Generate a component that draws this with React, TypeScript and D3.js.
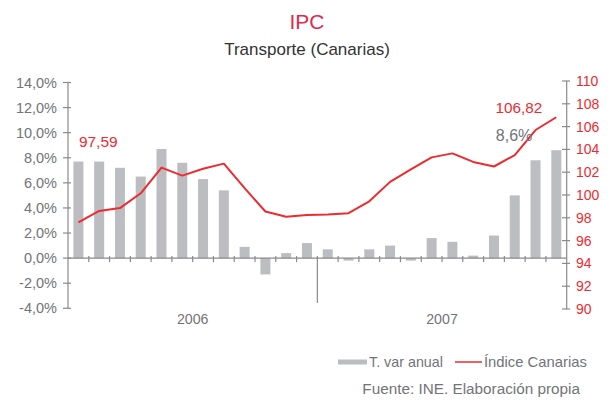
import React from "react";
import * as d3 from "d3";

const months = [
  "ene-06","feb-06","mar-06","abr-06","may-06","jun-06","jul-06","ago-06","sep-06","oct-06","nov-06","dic-06",
  "ene-07","feb-07","mar-07","abr-07","may-07","jun-07","jul-07","ago-07","sep-07","oct-07","nov-07","dic-07",
];
const varAnual = [7.7, 7.7, 7.2, 6.5, 8.7, 7.6, 6.3, 5.4, 0.9, -1.3, 0.4, 1.2, 0.7, -0.2, 0.7, 1.0, -0.2, 1.6, 1.3, 0.2, 1.8, 5.0, 7.8, 8.6];
const indice = [97.59, 98.6, 98.85, 100.15, 102.4, 101.7, 102.3, 102.75, 100.6, 98.55, 98.1, 98.25, 98.3, 98.4, 99.45, 101.15, 102.25, 103.3, 103.65, 102.9, 102.5, 103.5, 105.7, 106.82];
const years = ["2006", "2007"];
const leftTicks = [-4, -2, 0, 2, 4, 6, 8, 10, 12, 14];
const rightTicks = [90, 92, 94, 96, 98, 100, 102, 104, 106, 108, 110];

const W = 614, H = 412;
const FONT = "'Liberation Sans', Arial, sans-serif";
const GRAY_TXT = "#737477";
const AXIS = "#8a8a8d";
const BAR = "#bcbdc1";
const RED = "#ee2a2f";
const TITLE_RED = "#e2284c";

export default function App() {
  const x = d3.scaleBand<string>().domain(months).range([68, 566.7]).padding(0);
  const yL = d3.scaleLinear().domain([-4, 14]).range([308.3, 82.5]);
  const yR = d3.scaleLinear().domain([90, 110]).range([309, 81]);
  const bw = x.bandwidth();
  const barW = 10;
  const fmtPct = (v: number) => v.toFixed(1).replace(".", ",") + "%";
  const line = d3
    .line<number>()
    .x((_, i) => (x(months[i]) as number) + bw / 2)
    .y((d) => yR(d));
  const y0 = yL(0);
  const lastI = months.length - 1;
  const lastX = (x(months[lastI]) as number) + bw / 2;

  return (
    <svg width={W} height={H} style={{ position: "absolute", left: 0, top: 0, background: "#fff" }} fontFamily={FONT}>
      <text x={307} y={28.5} textAnchor="middle" fontSize={21} fill={TITLE_RED}>IPC</text>
      <text x={307} y={55} textAnchor="middle" fontSize={17} fill="#333">Transporte (Canarias)</text>

      {/* bars */}
      {varAnual.map((v, i) => {
        const cx = (x(months[i]) as number) + bw / 2;
        return (
          <rect key={i} x={cx - barW / 2} y={Math.min(yL(v), y0)} width={barW} height={Math.abs(yL(v) - y0)} fill={BAR} />
        );
      })}

      {/* left axis */}
      <line x1={68} x2={68} y1={yL(-4)} y2={yL(14)} stroke={AXIS} strokeWidth={1.2} />
      {leftTicks.map((t) => (
        <g key={t}>
          <line x1={63} x2={71} y1={yL(t)} y2={yL(t)} stroke={AXIS} strokeWidth={1.2} />
          <text x={57} y={yL(t)} dy="0.35em" textAnchor="end" fontSize={14.5} fill={GRAY_TXT}>{fmtPct(t)}</text>
        </g>
      ))}

      {/* right axis */}
      <line x1={566.7} x2={566.7} y1={yR(90)} y2={yR(110)} stroke={AXIS} strokeWidth={1.2} />
      {rightTicks.map((t) => (
        <g key={t}>
          <line x1={562} x2={570} y1={yR(t)} y2={yR(t)} stroke={AXIS} strokeWidth={1.2} />
          <text x={576} y={yR(t)} dy="0.35em" textAnchor="start" fontSize={14} fill={RED}>{t}</text>
        </g>
      ))}

      {/* x axis at zero */}
      <line x1={68} x2={566.7} y1={y0} y2={y0} stroke={AXIS} strokeWidth={1.2} />
      {months.slice(1).map((m, i) => {
        const xx = x(m) as number;
        const long = i + 1 === 12;
        return <line key={m} x1={xx} x2={xx} y1={y0 - 2} y2={long ? 303 : y0 + 4} stroke={AXIS} strokeWidth={1.2} />;
      })}
      {years.map((yv, k) => {
        const xx = (x(months[k * 12]) as number) + bw * 6;
        return (
          <text key={yv} x={xx} y={323.5} textAnchor="middle" fontSize={14.2} fill={GRAY_TXT}>{yv}</text>
        );
      })}

      {/* line */}
      <path d={line(indice) || ""} fill="none" stroke={RED} strokeWidth={2} strokeLinejoin="round" />

      {/* labels */}
      <text x={(x(months[0]) as number) + bw / 2 + 0.5} y={147} fontSize={15.5} fill={RED}>
        {indice[0].toFixed(2).replace(".", ",")}
      </text>
      <text x={lastX - 14} y={112.5} textAnchor="end" fontSize={15.3} fill={RED}>
        {indice[lastI].toFixed(2).replace(".", ",")}
      </text>
      <text x={lastX - 24} y={141} textAnchor="end" fontSize={16} fill={GRAY_TXT}>
        {fmtPct(varAnual[lastI])}
      </text>

      {/* legend */}
      <rect x={338} y={359.5} width={29} height={5} fill={BAR} />
      <text x={369} y={362} dy="0.35em" fontSize={14.3} fill={GRAY_TXT}>T. var anual</text>
      <line x1={455} x2={482} y1={362} y2={362} stroke={RED} strokeWidth={1.5} />
      <text x={484} y={362} dy="0.35em" fontSize={14.8} fill={GRAY_TXT}>Índice Canarias</text>

      <text x={580} y={389} dy="0.35em" textAnchor="end" fontSize={15.3} fill={GRAY_TXT}>Fuente: INE. Elaboración propia</text>
    </svg>
  );
}
